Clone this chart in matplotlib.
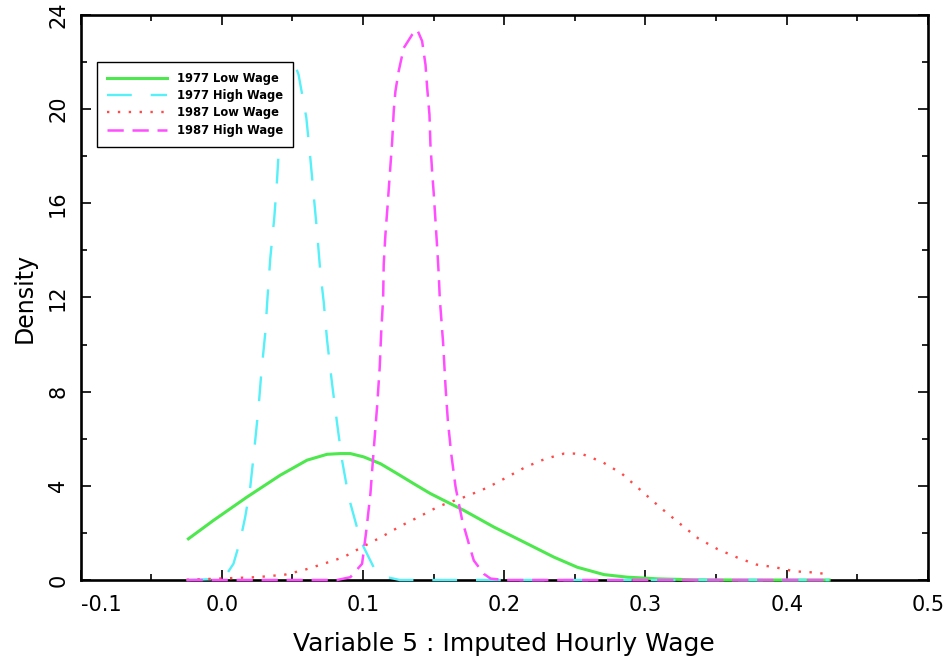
import matplotlib
matplotlib.use("Agg")
import matplotlib.pyplot as plt
from matplotlib.ticker import MultipleLocator

## Density estimates of imputed hourly wage, low and high wage groups in 1977 and 1987.

# 1977 Low Wage
low77_x = [-0.0237, -0.0060, 0.0177, 0.0413, 0.0603, 0.0745, 0.0839, 0.0910, 0.1004, 0.1123,
           0.1241, 0.1359, 0.1477, 0.1596, 0.1713, 0.1926, 0.2163, 0.2352, 0.2518, 0.2706,
           0.2872, 0.3085, 0.3340, 0.3700, 0.4300]
low77_y = [1.75, 2.53, 3.52, 4.45, 5.09, 5.34, 5.37, 5.37, 5.23, 4.94,
           4.52, 4.09, 3.67, 3.31, 2.96, 2.25, 1.54, 0.97, 0.54, 0.23,
           0.12, 0.05, 0.01, 0.0, 0.0]

# 1977 High Wage
high77_x = [-0.0250, -0.0050, 0.0035, 0.0082, 0.0130, 0.0165, 0.0201, 0.0229, 0.0260, 0.0279,
            0.0307, 0.0323, 0.0343, 0.0371, 0.0390, 0.0401, 0.0450, 0.0510, 0.0543, 0.0598,
            0.0626, 0.0650, 0.0674, 0.0697, 0.0721, 0.0745, 0.0780, 0.0816, 0.0851, 0.0898,
            0.0969, 0.1004, 0.1075, 0.1170, 0.1260, 0.4300]
high77_y = [0.0, 0.04, 0.26, 0.69, 1.68, 2.67, 3.95, 5.51, 7.35, 8.77,
            10.48, 11.98, 13.68, 15.38, 16.93, 18.06, 20.40, 22.00, 21.47, 19.64,
            17.94, 16.36, 14.80, 13.10, 11.82, 10.19, 8.35, 6.65, 5.09, 3.52,
            1.97, 1.40, 0.54, 0.12, 0.0, 0.0]

# 1987 Low Wage
low87_x = [-0.0250, 0.0248, 0.0449, 0.0584, 0.0721, 0.0862, 0.0993, 0.1128, 0.1265, 0.1401,
           0.1536, 0.1738, 0.1879, 0.2014, 0.2151, 0.2288, 0.2423, 0.2494, 0.2560, 0.2695,
           0.2832, 0.2967, 0.3101, 0.3238, 0.3373, 0.3511, 0.3648, 0.3782, 0.3919, 0.4054,
           0.4191, 0.4300]
low87_y = [0.01, 0.12, 0.23, 0.43, 0.69, 0.97, 1.40, 1.82, 2.29, 2.70,
           3.13, 3.57, 3.92, 4.35, 4.80, 5.14, 5.37, 5.37, 5.33, 5.01,
           4.52, 3.81, 3.10, 2.42, 1.77, 1.31, 0.96, 0.66, 0.54, 0.37,
           0.32, 0.24]

# 1987 High Wage
high87_x = [-0.0250, 0.0816, 0.0910, 0.0993, 0.1023, 0.1052, 0.1075, 0.1099, 0.1118, 0.1128,
            0.1142, 0.1146, 0.1158, 0.1174, 0.1189, 0.1206, 0.1217, 0.1229, 0.1252, 0.1288,
            0.1348, 0.1383, 0.1418, 0.1442, 0.1454, 0.1470, 0.1477, 0.1489, 0.1501, 0.1513,
            0.1525, 0.1536, 0.1543, 0.1567, 0.1584, 0.1600, 0.1624, 0.1655, 0.1702, 0.1749,
            0.1784, 0.1855, 0.1903, 0.2000, 0.4300]
high87_y = [0.0, 0.0, 0.12, 0.69, 2.11, 3.67, 5.51, 7.35, 9.06, 10.48,
            11.97, 13.38, 14.66, 15.94, 17.21, 18.63, 19.91, 20.76, 21.61, 22.60,
            23.17, 23.38, 22.89, 21.89, 20.90, 19.77, 18.49, 17.35, 16.36, 15.23,
            14.09, 12.96, 11.97, 10.05, 8.20, 6.79, 5.37, 3.95, 2.53, 1.54,
            0.83, 0.26, 0.06, 0.0, 0.0]

x_ticks = [-0.1, 0.0, 0.1, 0.2, 0.3, 0.4, 0.5]
y_ticks = [0, 4, 8, 12, 16, 20, 24]

fig = plt.figure(figsize=(9.48, 6.6), dpi=100)
ax = fig.add_axes([0.0851, 0.1212, 0.8937, 0.8561])

ax.plot(low77_x, low77_y, color="#4de84d", lw=2.2, label="1977 Low Wage", zorder=3, clip_on=False)
ax.plot(high77_x, high77_y, color="#55f0f8", lw=1.7, linestyle=(0, (10.5, 8)),
        label="1977 High Wage", zorder=3, clip_on=False)
ax.plot(low87_x, low87_y, color="#ff4a4a", lw=1.7, linestyle=(0, (1, 3.6)),
        label="1987 Low Wage", zorder=3, clip_on=False)
ax.plot(high87_x, high87_y, color="#ff4dff", lw=1.8, linestyle=(0, (6.5, 3.5)),
        label="1987 High Wage", zorder=3, clip_on=False)

ax.set_xlim(-0.1, 0.5)
ax.set_ylim(0, 24)
ax.set_xticks(x_ticks)
ax.set_yticks(y_ticks)
ax.set_xticklabels(["%.1f" % v for v in x_ticks])
ax.xaxis.set_minor_locator(MultipleLocator(0.05))
ax.yaxis.set_minor_locator(MultipleLocator(2))
ax.tick_params(which="both", direction="in", top=True, right=True, width=1.2, color="black")
ax.tick_params(which="major", length=7)
ax.tick_params(which="minor", length=4)
ax.tick_params(axis="x", which="major", pad=11, labelsize=15)
ax.tick_params(axis="y", which="major", pad=9, labelsize=15, labelrotation=90)
for lab in ax.get_yticklabels():
    lab.set_va("center")
ax.get_xticklabels()[0].set_ha("left")

for sp in ax.spines.values():
    sp.set_linewidth(1.9)

ax.set_xlabel("Variable 5 : Imputed Hourly Wage", fontsize=18, labelpad=12)
ax.set_ylabel("Density", fontsize=17, labelpad=8)

# legend box sits over the top of the 1977 high wage curve, as in the original
leg = ax.legend(loc="upper left", bbox_to_anchor=(0.019, 0.917), borderaxespad=0,
                prop={"size": 8.3, "weight": "bold"}, handlelength=5.2, handletextpad=0.9,
                labelspacing=0.38, fancybox=False, framealpha=1, edgecolor="black",
                borderpad=0.85)
leg.get_frame().set_linewidth(1.0)
leg.set_zorder(5)

plt.savefig("out.png", dpi=100)
plt.close()
